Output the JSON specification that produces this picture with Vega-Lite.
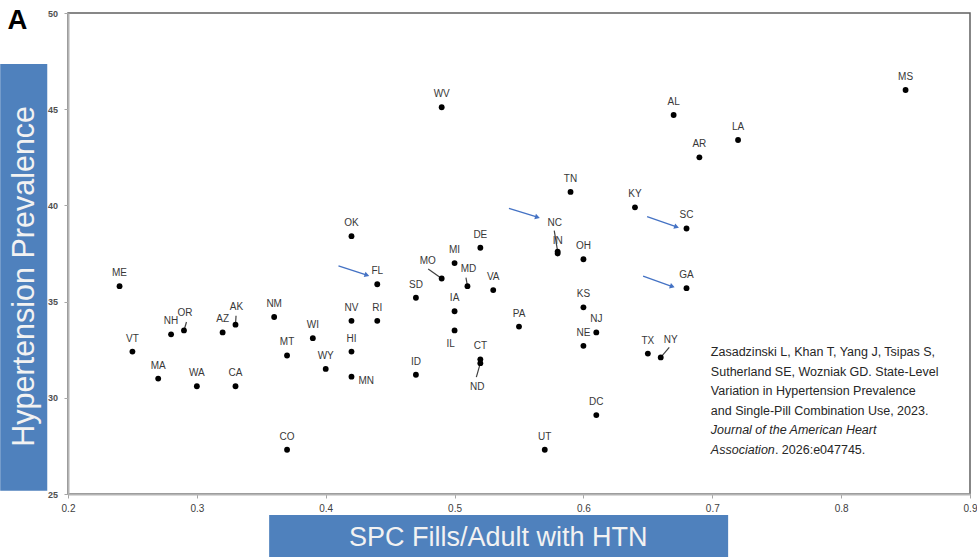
{
  "$schema": "https://vega.github.io/schema/vega-lite/v6.json",
  "width": 902,
  "height": 481,
  "autosize": "none",
  "padding": {"left": 68, "top": 13, "right": 7, "bottom": 63},
  "background": "white",
  "datasets": {
    "states": [
      {"state": "ME", "spc": 0.24, "htn": 35.8},
      {"state": "VT", "spc": 0.25, "htn": 32.4},
      {"state": "MA", "spc": 0.27, "htn": 31.0},
      {"state": "NH", "spc": 0.28, "htn": 33.3},
      {"state": "OR", "spc": 0.29, "htn": 33.5},
      {"state": "WA", "spc": 0.30, "htn": 30.6},
      {"state": "AZ", "spc": 0.32, "htn": 33.4},
      {"state": "AK", "spc": 0.33, "htn": 33.8},
      {"state": "CA", "spc": 0.33, "htn": 30.6},
      {"state": "NM", "spc": 0.36, "htn": 34.2},
      {"state": "MT", "spc": 0.37, "htn": 32.2},
      {"state": "CO", "spc": 0.37, "htn": 27.3},
      {"state": "WI", "spc": 0.39, "htn": 33.1},
      {"state": "WY", "spc": 0.40, "htn": 31.5},
      {"state": "NV", "spc": 0.42, "htn": 34.0},
      {"state": "HI", "spc": 0.42, "htn": 32.4},
      {"state": "MN", "spc": 0.42, "htn": 31.1},
      {"state": "OK", "spc": 0.42, "htn": 38.4},
      {"state": "RI", "spc": 0.44, "htn": 34.0},
      {"state": "FL", "spc": 0.44, "htn": 35.9},
      {"state": "SD", "spc": 0.47, "htn": 35.2},
      {"state": "ID", "spc": 0.47, "htn": 31.2},
      {"state": "MO", "spc": 0.49, "htn": 36.2},
      {"state": "WV", "spc": 0.49, "htn": 45.1},
      {"state": "MI", "spc": 0.50, "htn": 37.0},
      {"state": "IA", "spc": 0.50, "htn": 34.5},
      {"state": "IL", "spc": 0.50, "htn": 33.5},
      {"state": "MD", "spc": 0.51, "htn": 35.8},
      {"state": "DE", "spc": 0.52, "htn": 37.8},
      {"state": "CT", "spc": 0.52, "htn": 32.0},
      {"state": "ND", "spc": 0.52, "htn": 31.8},
      {"state": "VA", "spc": 0.53, "htn": 35.6},
      {"state": "PA", "spc": 0.55, "htn": 33.7},
      {"state": "UT", "spc": 0.57, "htn": 27.3},
      {"state": "NC", "spc": 0.58, "htn": 37.6},
      {"state": "IN", "spc": 0.58, "htn": 37.5},
      {"state": "TN", "spc": 0.59, "htn": 40.7},
      {"state": "OH", "spc": 0.60, "htn": 37.2},
      {"state": "KS", "spc": 0.60, "htn": 34.7},
      {"state": "NE", "spc": 0.60, "htn": 32.7},
      {"state": "NJ", "spc": 0.61, "htn": 33.4},
      {"state": "DC", "spc": 0.61, "htn": 29.1},
      {"state": "KY", "spc": 0.64, "htn": 39.9},
      {"state": "TX", "spc": 0.65, "htn": 32.3},
      {"state": "NY", "spc": 0.66, "htn": 32.1},
      {"state": "AL", "spc": 0.67, "htn": 44.7},
      {"state": "SC", "spc": 0.68, "htn": 38.8},
      {"state": "GA", "spc": 0.68, "htn": 35.7},
      {"state": "AR", "spc": 0.69, "htn": 42.5},
      {"state": "LA", "spc": 0.72, "htn": 43.4},
      {"state": "MS", "spc": 0.85, "htn": 46.0}
    ]
  },
  "config": {
    "view": {"stroke": "#606060", "strokeWidth": 1.5},
    "axis": {
      "grid": false,
      "domainColor": "#b4b4b4",
      "domainWidth": 2,
      "tickColor": "#a6a6a6",
      "tickSize": 4,
      "tickWidth": 1,
      "labelFont": "Liberation Sans",
      "labelFontSize": 9,
      "labelFontWeight": "bold",
      "labelColor": "#505050",
      "labelFlush": false,
      "labelOverlap": false,
      "titleFont": "Liberation Sans",
      "titleFontWeight": "normal",
      "titleColor": "#f2f2f2"
    }
  },
  "layer": [
    {
      "data": {"values": [{}]},
      "mark": {"type": "rect", "color": "#4f81bd"},
      "encoding": {
        "x": {"datum": 0.1474, "type": "quantitative", "scale": {"domain": [0.2, 0.9], "nice": false, "zero": false}},
        "x2": {"datum": 0.1839},
        "y": {"datum": 47.35, "type": "quantitative", "scale": {"domain": [25, 50], "nice": false, "zero": false}},
        "y2": {"datum": 25.17}
      }
    },
    {
      "data": {"values": [{}]},
      "mark": {"type": "rect", "color": "#4f81bd"},
      "encoding": {
        "x": {"datum": 0.3561, "type": "quantitative", "scale": {"domain": [0.2, 0.9], "nice": false, "zero": false}},
        "x2": {"datum": 0.7123},
        "y": {"datum": 23.91, "type": "quantitative", "scale": {"domain": [25, 50], "nice": false, "zero": false}},
        "y2": {"datum": 21.6}
      }
    },
    {
      "data": {"values": [{}]},
      "mark": {"type": "text", "text": "A", "font": "Liberation Sans", "fontSize": 27.5, "fontWeight": "bold", "color": "#000000", "align": "left", "baseline": "alphabetic"},
      "encoding": {
        "x": {"datum": 0.1531, "type": "quantitative", "scale": {"domain": [0.2, 0.9], "nice": false, "zero": false}},
        "y": {"datum": 49.17, "type": "quantitative", "scale": {"domain": [25, 50], "nice": false, "zero": false}}
      }
    },
    {
      "data": {"values": [{}]},
      "mark": {"type": "text", "text": ["Zasadzinski L, Khan T, Yang J, Tsipas S,", "Sutherland SE, Wozniak GD. State-Level", "Variation in Hypertension Prevalence", "and Single-Pill Combination Use, 2023."], "lineHeight": 19.52, "font": "Liberation Sans", "fontSize": 12.5, "color": "#262626", "align": "left", "baseline": "alphabetic"},
      "encoding": {
        "x": {"datum": 0.6989, "type": "quantitative", "scale": {"domain": [0.2, 0.9], "nice": false, "zero": false}},
        "y": {"datum": 32.162, "type": "quantitative", "scale": {"domain": [25, 50], "nice": false, "zero": false}}
      }
    },
    {
      "data": {"values": [{}]},
      "mark": {"type": "text", "text": ["Journal of the American Heart", "Association"], "lineHeight": 19.52, "font": "Liberation Sans", "fontSize": 12.5, "fontStyle": "italic", "color": "#262626", "align": "left", "baseline": "alphabetic"},
      "encoding": {
        "x": {"datum": 0.6989, "type": "quantitative", "scale": {"domain": [0.2, 0.9], "nice": false, "zero": false}},
        "y": {"datum": 28.103, "type": "quantitative", "scale": {"domain": [25, 50], "nice": false, "zero": false}}
      }
    },
    {
      "data": {"values": [{}]},
      "mark": {"type": "text", "text": ". 2026:e047745.", "font": "Liberation Sans", "fontSize": 12.5, "color": "#262626", "align": "left", "baseline": "alphabetic"},
      "encoding": {
        "x": {"datum": 0.7486, "type": "quantitative", "scale": {"domain": [0.2, 0.9], "nice": false, "zero": false}},
        "y": {"datum": 27.089, "type": "quantitative", "scale": {"domain": [25, 50], "nice": false, "zero": false}}
      }
    },
    {
      "data": {"name": "states"},
      "transform": [{"filter": "datum.state === 'AK'"}],
      "mark": {"type": "rule", "color": "#404040", "strokeWidth": 1.2, "x2Offset": 0.5, "y2Offset": -9},
      "encoding": {"x": {"field": "spc", "type": "quantitative"}, "y": {"field": "htn", "type": "quantitative"}, "x2": {"field": "spc"}, "y2": {"field": "htn"}}
    },
    {
      "data": {"name": "states"},
      "transform": [{"filter": "datum.state === 'OR'"}],
      "mark": {"type": "rule", "color": "#404040", "strokeWidth": 1.2, "x2Offset": 2.5, "y2Offset": -8.5},
      "encoding": {"x": {"field": "spc", "type": "quantitative"}, "y": {"field": "htn", "type": "quantitative"}, "x2": {"field": "spc"}, "y2": {"field": "htn"}}
    },
    {
      "data": {"name": "states"},
      "transform": [{"filter": "datum.state === 'MD'"}],
      "mark": {"type": "rule", "color": "#404040", "strokeWidth": 1.2, "x2Offset": -1.5, "y2Offset": -8.5},
      "encoding": {"x": {"field": "spc", "type": "quantitative"}, "y": {"field": "htn", "type": "quantitative"}, "x2": {"field": "spc"}, "y2": {"field": "htn"}}
    },
    {
      "data": {"name": "states"},
      "transform": [{"filter": "datum.state === 'MO'"}],
      "mark": {"type": "rule", "color": "#404040", "strokeWidth": 1.2, "x2Offset": -13.5, "y2Offset": -9.5},
      "encoding": {"x": {"field": "spc", "type": "quantitative"}, "y": {"field": "htn", "type": "quantitative"}, "x2": {"field": "spc"}, "y2": {"field": "htn"}}
    },
    {
      "data": {"name": "states"},
      "transform": [{"filter": "datum.state === 'ND'"}],
      "mark": {"type": "rule", "color": "#404040", "strokeWidth": 1.2, "x2Offset": -4, "y2Offset": 14},
      "encoding": {"x": {"field": "spc", "type": "quantitative"}, "y": {"field": "htn", "type": "quantitative"}, "x2": {"field": "spc"}, "y2": {"field": "htn"}}
    },
    {
      "data": {"name": "states"},
      "transform": [{"filter": "datum.state === 'NY'"}],
      "mark": {"type": "rule", "color": "#404040", "strokeWidth": 1.2, "x2Offset": 8.5, "y2Offset": -10},
      "encoding": {"x": {"field": "spc", "type": "quantitative"}, "y": {"field": "htn", "type": "quantitative"}, "x2": {"field": "spc"}, "y2": {"field": "htn"}}
    },
    {
      "data": {"name": "states"},
      "transform": [{"filter": "datum.state === 'NC'"}],
      "mark": {"type": "rule", "color": "#404040", "strokeWidth": 1.2, "x2Offset": -3.4, "y2Offset": -21},
      "encoding": {"x": {"field": "spc", "type": "quantitative"}, "y": {"field": "htn", "type": "quantitative"}, "x2": {"field": "spc"}, "y2": {"field": "htn"}}
    },
    {
      "data": {"name": "states"},
      "transform": [{"filter": "datum.state === 'FL'"}],
      "mark": {"type": "rule", "color": "#4472c4", "strokeWidth": 1.3, "xOffset": -38.8, "yOffset": -18.3, "x2Offset": -10.3, "y2Offset": -9.1},
      "encoding": {"x": {"field": "spc", "type": "quantitative"}, "y": {"field": "htn", "type": "quantitative"}, "x2": {"field": "spc"}, "y2": {"field": "htn"}}
    },
    {
      "data": {"name": "states"},
      "transform": [{"filter": "datum.state === 'NC'"}],
      "mark": {"type": "rule", "color": "#4472c4", "strokeWidth": 1.3, "xOffset": -48.7, "yOffset": -43.3, "x2Offset": -20.2, "y2Offset": -34.4},
      "encoding": {"x": {"field": "spc", "type": "quantitative"}, "y": {"field": "htn", "type": "quantitative"}, "x2": {"field": "spc"}, "y2": {"field": "htn"}}
    },
    {
      "data": {"name": "states"},
      "transform": [{"filter": "datum.state === 'SC'"}],
      "mark": {"type": "rule", "color": "#4472c4", "strokeWidth": 1.3, "xOffset": -39.4, "yOffset": -11.8, "x2Offset": -9.9, "y2Offset": -1.6},
      "encoding": {"x": {"field": "spc", "type": "quantitative"}, "y": {"field": "htn", "type": "quantitative"}, "x2": {"field": "spc"}, "y2": {"field": "htn"}}
    },
    {
      "data": {"name": "states"},
      "transform": [{"filter": "datum.state === 'GA'"}],
      "mark": {"type": "rule", "color": "#4472c4", "strokeWidth": 1.3, "xOffset": -43.4, "yOffset": -12.1, "x2Offset": -14.2, "y2Offset": -1.6},
      "encoding": {"x": {"field": "spc", "type": "quantitative"}, "y": {"field": "htn", "type": "quantitative"}, "x2": {"field": "spc"}, "y2": {"field": "htn"}}
    },
    {
      "data": {"name": "states"},
      "transform": [{"filter": "datum.state === 'FL'"}],
      "mark": {"type": "point", "shape": "triangle-right", "filled": true, "color": "#4472c4", "opacity": 1, "size": 32, "angle": 18, "xOffset": -10.3, "yOffset": -9.1},
      "encoding": {"x": {"field": "spc", "type": "quantitative"}, "y": {"field": "htn", "type": "quantitative"}}
    },
    {
      "data": {"name": "states"},
      "transform": [{"filter": "datum.state === 'NC'"}],
      "mark": {"type": "point", "shape": "triangle-right", "filled": true, "color": "#4472c4", "opacity": 1, "size": 32, "angle": 17, "xOffset": -20.2, "yOffset": -34.4},
      "encoding": {"x": {"field": "spc", "type": "quantitative"}, "y": {"field": "htn", "type": "quantitative"}}
    },
    {
      "data": {"name": "states"},
      "transform": [{"filter": "datum.state === 'SC'"}],
      "mark": {"type": "point", "shape": "triangle-right", "filled": true, "color": "#4472c4", "opacity": 1, "size": 32, "angle": 19, "xOffset": -9.9, "yOffset": -1.6},
      "encoding": {"x": {"field": "spc", "type": "quantitative"}, "y": {"field": "htn", "type": "quantitative"}}
    },
    {
      "data": {"name": "states"},
      "transform": [{"filter": "datum.state === 'GA'"}],
      "mark": {"type": "point", "shape": "triangle-right", "filled": true, "color": "#4472c4", "opacity": 1, "size": 32, "angle": 19.5, "xOffset": -14.2, "yOffset": -1.6},
      "encoding": {"x": {"field": "spc", "type": "quantitative"}, "y": {"field": "htn", "type": "quantitative"}}
    },
    {
      "data": {"name": "states"},
      "mark": {"type": "point", "filled": true, "color": "#000000", "opacity": 1, "size": 34, "strokeWidth": 0},
      "encoding": {
        "x": {
          "field": "spc", "type": "quantitative",
          "scale": {"domain": [0.2, 0.9], "nice": false, "zero": false},
          "axis": {
            "zindex": 2,
            "values": [0.2, 0.3, 0.4, 0.5, 0.6, 0.7, 0.8, 0.9],
            "format": ".1f",
            "labelFontSize": 10,
            "labelFontWeight": "normal",
            "labelColor": "#404040",
            "labelPadding": 5.5,
            "title": "SPC Fills/Adult with HTN",
            "titleFontSize": 27,
            "titleX": 429.7,
            "titleY": 51,
            "titleAlign": "center",
            "titleBaseline": "alphabetic",
            "titleAngle": 0
          }
        },
        "y": {
          "field": "htn", "type": "quantitative",
          "scale": {"domain": [25, 50], "nice": false, "zero": false},
          "axis": {
            "zindex": 2,
            "values": [25, 30, 35, 40, 45, 50],
            "labelPadding": 6.5,
            "title": "Hypertension Prevalence",
            "titleFontSize": 30.5,
            "titleX": -35,
            "titleY": 262.8,
            "titleAngle": -90,
            "titleAlign": "center",
            "titleBaseline": "alphabetic"
          }
        }
      }
    },
    {
      "data": {"name": "states"},
      "transform": [{"filter": {"not": {"field": "state", "oneOf": ["MN", "IL", "ND", "MO", "MD", "OR", "AK", "NC", "NY"]}}}],
      "mark": {"type": "text", "font": "Liberation Sans", "fontSize": 10, "color": "#383838", "baseline": "middle", "align": "center", "dy": -13},
      "encoding": {"x": {"field": "spc", "type": "quantitative"}, "y": {"field": "htn", "type": "quantitative"}, "text": {"field": "state"}}
    },
    {
      "data": {"name": "states"},
      "transform": [{"filter": {"field": "state", "oneOf": ["AK", "OR", "MD"]}}],
      "mark": {"type": "text", "font": "Liberation Sans", "fontSize": 10, "color": "#383838", "baseline": "middle", "align": "center", "dx": 1, "dy": -17.5},
      "encoding": {"x": {"field": "spc", "type": "quantitative"}, "y": {"field": "htn", "type": "quantitative"}, "text": {"field": "state"}}
    },
    {
      "data": {"name": "states"},
      "transform": [{"filter": "datum.state === 'NY'"}],
      "mark": {"type": "text", "font": "Liberation Sans", "fontSize": 10, "color": "#383838", "baseline": "middle", "align": "center", "dx": 10, "dy": -17.5},
      "encoding": {"x": {"field": "spc", "type": "quantitative"}, "y": {"field": "htn", "type": "quantitative"}, "text": {"field": "state"}}
    },
    {
      "data": {"name": "states"},
      "transform": [{"filter": "datum.state === 'MO'"}],
      "mark": {"type": "text", "font": "Liberation Sans", "fontSize": 10, "color": "#383838", "baseline": "middle", "align": "center", "dx": -14, "dy": -17.5},
      "encoding": {"x": {"field": "spc", "type": "quantitative"}, "y": {"field": "htn", "type": "quantitative"}, "text": {"field": "state"}}
    },
    {
      "data": {"name": "states"},
      "transform": [{"filter": "datum.state === 'NC'"}],
      "mark": {"type": "text", "font": "Liberation Sans", "fontSize": 10, "color": "#383838", "baseline": "middle", "align": "center", "dx": -3, "dy": -28.5},
      "encoding": {"x": {"field": "spc", "type": "quantitative"}, "y": {"field": "htn", "type": "quantitative"}, "text": {"field": "state"}}
    },
    {
      "data": {"name": "states"},
      "transform": [{"filter": "datum.state === 'IL'"}],
      "mark": {"type": "text", "font": "Liberation Sans", "fontSize": 10, "color": "#383838", "baseline": "middle", "align": "center", "dx": -4, "dy": 13.5},
      "encoding": {"x": {"field": "spc", "type": "quantitative"}, "y": {"field": "htn", "type": "quantitative"}, "text": {"field": "state"}}
    },
    {
      "data": {"name": "states"},
      "transform": [{"filter": "datum.state === 'ND'"}],
      "mark": {"type": "text", "font": "Liberation Sans", "fontSize": 10, "color": "#383838", "baseline": "middle", "align": "center", "dx": -3, "dy": 24},
      "encoding": {"x": {"field": "spc", "type": "quantitative"}, "y": {"field": "htn", "type": "quantitative"}, "text": {"field": "state"}}
    },
    {
      "data": {"name": "states"},
      "transform": [{"filter": "datum.state === 'MN'"}],
      "mark": {"type": "text", "font": "Liberation Sans", "fontSize": 10, "color": "#383838", "baseline": "middle", "align": "left", "dx": 7, "dy": 4},
      "encoding": {"x": {"field": "spc", "type": "quantitative"}, "y": {"field": "htn", "type": "quantitative"}, "text": {"field": "state"}}
    }
  ]
}
